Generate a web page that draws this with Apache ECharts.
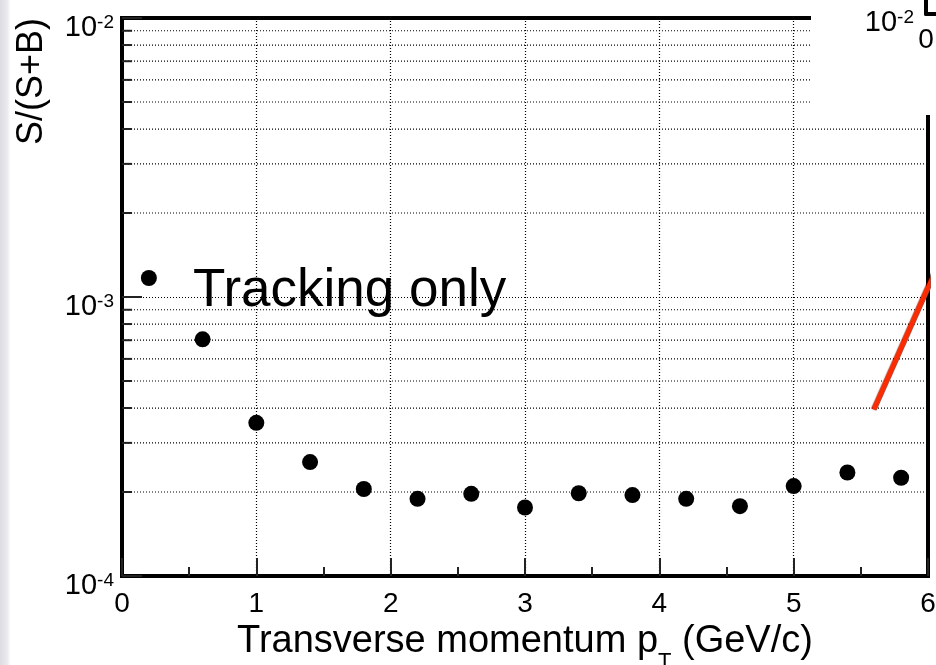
<!DOCTYPE html>
<html>
<head>
<meta charset="utf-8">
<title>S/(S+B) vs transverse momentum</title>
<script src="https://cdn.jsdelivr.net/npm/echarts@6/dist/echarts.min.js"></script>
<style>
  html, body { margin: 0; padding: 0; background: #fff; }
  #chart { width: 936px; height: 665px; }
</style>
</head>
<body>
<div id="chart"></div>
<script>
// Measured points: transverse momentum bin centres (GeV/c) and S/(S+B)
const ptValues = [0.2, 0.6, 1.0, 1.4, 1.8, 2.2, 2.6, 3.0, 3.4, 3.8, 4.2, 4.6, 5.0, 5.4, 5.8];
const ratioValues = [1.17e-3, 7.05e-4, 3.54e-4, 2.56e-4, 2.05e-4, 1.89e-4, 1.97e-4, 1.76e-4,
                     1.98e-4, 1.95e-4, 1.89e-4, 1.78e-4, 2.10e-4, 2.35e-4, 2.25e-4];

// Intermediate log grid lines (2..9 x 10^n)
const logMinorValues = [2e-4, 3e-4, 4e-4, 5e-4, 6e-4, 7e-4, 8e-4, 9e-4,
                        2e-3, 3e-3, 4e-3, 5e-3, 6e-3, 7e-3, 8e-3, 9e-3];

// Red pointer line towards the inset (pt, S/(S+B))
const pointerX = [5.6, 6.1];
const pointerY = [3.95e-4, 1.38e-3];

// Axis ranges
const xRange = [0, 6];
const yRange = [1e-4, 1e-2];
const insetXRange = [0, 10];
const insetYRange = [1e-2, 1e-1];

const FONT = '"Liberation Sans", Arial, Helvetica, sans-serif';
const minorTickLen = 0.075; // in pt units

const chart = echarts.init(document.getElementById('chart'), null, { renderer: 'canvas' });

const powText = v => '{b|10}{s|' + Math.round(Math.log10(v)) + '}';
const powRich = {
  b: { fontSize: 29, lineHeight: 29, fontFamily: FONT, color: '#000' },
  s: { fontSize: 19, lineHeight: 29, verticalAlign: 'top', fontFamily: FONT, color: '#000' }
};

const dotted = { color: '#000', width: 1.2, type: [1, 2] };
const tickStyle = { color: '#222', width: 2 };

// dotted lines at 2..9 x 10^n across the whole frame
const minorGridSeries = logMinorValues.map(v => ({
  type: 'line', xAxisIndex: 0, yAxisIndex: 0, silent: true, symbol: 'none', z: 1,
  lineStyle: dotted,
  data: [[xRange[0], v], [xRange[1], v]]
}));

// short tick marks on the left axis at the same values
const minorTickSeries = logMinorValues.map(v => ({
  type: 'line', xAxisIndex: 0, yAxisIndex: 0, silent: true, symbol: 'none', z: 3,
  lineStyle: tickStyle,
  data: [[xRange[0], v], [xRange[0] + minorTickLen, v]]
}));

const option = {
  animation: false,
  backgroundColor: '#fff',
  textStyle: { fontFamily: FONT },
  grid: [
    { left: 122, right: 8, top: 18, bottom: 89, outerBoundsMode: 'none', containLabel: false,
      show: true, borderColor: '#000', borderWidth: 4, backgroundColor: 'transparent' },
    { left: 926, top: 0, width: 100, height: 14, outerBoundsMode: 'none', containLabel: false, show: false }
  ],
  xAxis: [
    {
      type: 'value', gridIndex: 0, min: xRange[0], max: xRange[1], interval: 1,
      axisLine: { show: true, onZero: false, lineStyle: { color: '#000', width: 4 } },
      axisTick: { show: true, inside: true, length: 18, lineStyle: tickStyle },
      minorTick: { show: true, splitNumber: 2, length: 9, lineStyle: tickStyle },
      splitLine: { show: true, lineStyle: dotted },
      axisLabel: { fontSize: 28, color: '#000', fontFamily: FONT, margin: 14, showMinLabel: true, showMaxLabel: true },
      name: '{a|Transverse momentum p}{sub|T}{a| (GeV/c)}',
      nameLocation: 'middle',
      nameGap: 29,
      nameTextStyle: {
        rich: {
          a: { fontSize: 38, lineHeight: 62, fontFamily: FONT, color: '#000' },
          sub: { fontSize: 22, lineHeight: 62, verticalAlign: 'bottom', fontFamily: FONT, color: '#000' }
        }
      }
    },
    {
      type: 'value', gridIndex: 1, min: insetXRange[0], max: insetXRange[1], interval: 10, z: 20,
      axisLine: { show: true, onZero: false, lineStyle: { color: '#000', width: 4 } },
      axisTick: { show: false },
      splitLine: { show: false },
      axisLabel: {
        fontSize: 28, color: '#000', fontFamily: FONT, margin: 12, showMinLabel: true,
        formatter: v => (v === insetXRange[0] ? String(v) : '')
      }
    }
  ],
  yAxis: [
    {
      type: 'log', logBase: 10, gridIndex: 0, min: yRange[0], max: yRange[1],
      axisLine: { show: true, lineStyle: { color: '#000', width: 4 } },
      axisTick: { show: true, inside: true, length: 20, lineStyle: tickStyle },
      splitLine: { show: true, lineStyle: dotted },
      axisLabel: {
        showMinLabel: true, showMaxLabel: true, margin: 8, padding: [20, 0, 0, 0],
        formatter: powText, rich: powRich
      }
    },
    {
      type: 'log', logBase: 10, gridIndex: 1, min: insetYRange[0], max: insetYRange[1], z: 20,
      axisLine: { show: true, lineStyle: { color: '#000', width: 4 } },
      axisTick: { show: false },
      splitLine: { show: false },
      axisLabel: {
        showMinLabel: true, showMaxLabel: false, margin: 12, padding: [18, 0, 0, 0],
        formatter: v => (Math.abs(v - insetYRange[0]) < 1e-9 ? powText(v) : ''),
        rich: powRich
      }
    }
  ],
  title: {
    text: 'Tracking only',
    left: 188, top: 260,
    textStyle: { fontSize: 53, fontWeight: 'normal', color: '#000', fontFamily: FONT }
  },
  graphic: [
    {
      type: 'rect', left: 0, top: 0, z: 0, silent: true,
      shape: { width: 10, height: 665 },
      style: {
        fill: new echarts.graphic.LinearGradient(0, 0, 1, 0, [
          { offset: 0, color: '#dcdde3' },
          { offset: 0.7, color: '#e9e9ee' },
          { offset: 1, color: '#fbfbfc' }
        ])
      }
    },
    {
      // blank pad behind the inset
      type: 'rect', left: 811, top: 0, z: 10, silent: true,
      shape: { width: 125, height: 115 },
      style: { fill: '#fff' }
    },
    {
      type: 'text', left: 14, top: 18, z: 5, rotation: Math.PI / 2, silent: true,
      style: { text: 'S/(S+B)', font: '36px ' + FONT, fill: '#000' }
    }
  ],
  series: [
    {
      name: 'Tracking only',
      type: 'scatter',
      xAxisIndex: 0, yAxisIndex: 0,
      symbol: 'circle', symbolSize: 16,
      itemStyle: { color: '#000', opacity: 1 },
      data: ptValues.map((x, i) => [x, ratioValues[i]]),
      z: 5
    },
    {
      name: 'pointer',
      type: 'line',
      xAxisIndex: 0, yAxisIndex: 0,
      clip: false, symbol: 'none', silent: true, z: 12,
      lineStyle: { color: '#ff2a00', width: 5, shadowColor: 'rgba(0,0,0,0.6)', shadowBlur: 1, shadowOffsetX: -1 },
      data: pointerX.map((x, i) => [x, pointerY[i]])
    }
  ].concat(minorGridSeries, minorTickSeries)
};

chart.setOption(option);
</script>
</body>
</html>
